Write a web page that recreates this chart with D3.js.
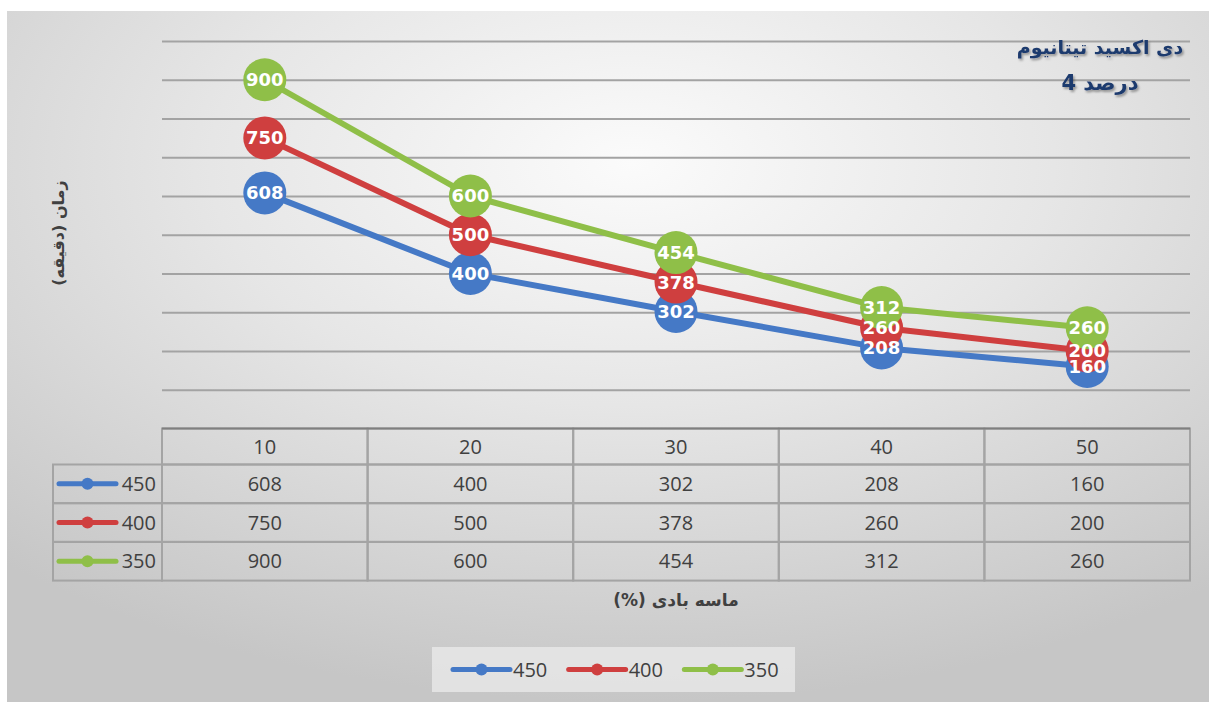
<!DOCTYPE html>
<html><head><meta charset="utf-8">
<script src="https://cdn.jsdelivr.net/npm/d3@7"></script>
<style>html,body{margin:0;padding:0;background:#fff;}svg{display:block;}</style>
</head><body>
<svg id="c" width="1209" height="702"></svg>
<script>
const categories = ["10", "20", "30", "40", "50"];
const seriesNames = ["450", "400", "350"];
const values450 = [608, 400, 302, 208, 160];
const values400 = [750, 500, 378, 260, 200];
const values350 = [900, 600, 454, 312, 260];
const seriesColors = ["#4579c6", "#cf3f3f", "#8fbf48"];
const titleLine1 = "دی اکسید تیتانیوم";
const titleLine2 = ["4", "درصد"];
const xTitle = "ماسه بادی (%)";
const yTitle = "زمان (دقیقه)";

const series = seriesNames.map((n, i) => ({name: n, values: [values450, values400, values350][i], color: seriesColors[i]}));

const W = 1209, H = 702;
const svg = d3.select("#c");
const defs = svg.append("defs");
const rg = defs.append("radialGradient").attr("id", "bg").attr("cx", "52%").attr("cy", "22%").attr("r", "78%");
rg.append("stop").attr("offset", "0%").attr("stop-color", "#fbfbfb");
rg.append("stop").attr("offset", "45%").attr("stop-color", "#e6e6e6");
rg.append("stop").attr("offset", "100%").attr("stop-color", "#c6c6c6");
const sh = defs.append("filter").attr("id", "ts").attr("x", "-10%").attr("y", "-20%").attr("width", "130%").attr("height", "150%");
sh.append("feDropShadow").attr("dx", 1.5).attr("dy", 2).attr("stdDeviation", 1.2).attr("flood-color", "#000").attr("flood-opacity", 0.35);

svg.append("rect").attr("x", 7).attr("y", 11).attr("width", W - 7).attr("height", H - 11).attr("fill", "url(#bg)");

const plotL = 162, plotR = 1190, plotT = 41, plotB = 428.5;
const x = d3.scaleBand().domain(categories).range([plotL, plotR]).padding(0);
const y = d3.scaleLinear().domain([0, 1000]).range([plotB, plotT]);

// gridlines
const grid = svg.append("g").attr("transform", `translate(${plotL},0)`)
  .call(d3.axisLeft(y).tickValues(d3.range(100, 1001, 100)).tickSize(-(plotR - plotL)).tickFormat(""));
grid.select(".domain").remove();
grid.selectAll(".tick line").attr("stroke", "#a3a3a3").attr("stroke-width", 2);

// lines + markers
const line = d3.line().x((d, i) => x(categories[i]) + x.bandwidth() / 2).y(d => y(d));
series.forEach(s => {
  svg.append("path").datum(s.values).attr("d", line).attr("fill", "none")
    .attr("stroke", s.color).attr("stroke-width", 6).attr("stroke-linejoin", "round");
  svg.append("g").selectAll("circle").data(s.values).join("circle")
    .attr("cx", (d, i) => x(categories[i]) + x.bandwidth() / 2).attr("cy", d => y(d))
    .attr("r", 21.5).attr("fill", s.color);
});
series.forEach(s => {
  svg.append("g").selectAll("text").data(s.values).join("text")
    .attr("x", (d, i) => x(categories[i]) + x.bandwidth() / 2).attr("y", d => y(d))
    .attr("dy", "0.36em").attr("text-anchor", "middle")
    .attr("font-family", "DejaVu Sans").attr("font-weight", "bold").attr("font-size", 18)
    .attr("fill", "#fff").text(d => d);
});

// data table
const headerH = 36, rowH = 38.7;
const tTop = plotB;
const tg = svg.append("g");
const cellStroke = "#a4a4a4";
const legL = 53;
categories.forEach(c => {
  tg.append("rect").attr("x", x(c)).attr("y", tTop).attr("width", x.bandwidth()).attr("height", headerH)
    .attr("fill", "none").attr("stroke", cellStroke).attr("stroke-width", 2);
  tg.append("text").attr("x", x(c) + x.bandwidth() / 2).attr("y", tTop + headerH / 2).attr("dy", "0.36em")
    .attr("text-anchor", "middle").attr("font-family", "Open Sans").attr("font-size", 20).attr("fill", "#404040").text(c);
});
series.forEach((s, r) => {
  const ry = tTop + headerH + r * rowH;
  tg.append("rect").attr("x", legL).attr("y", ry).attr("width", plotL - legL).attr("height", rowH)
    .attr("fill", "none").attr("stroke", cellStroke).attr("stroke-width", 2);
  tg.append("line").attr("x1", 59).attr("x2", 116).attr("y1", ry + rowH / 2).attr("y2", ry + rowH / 2)
    .attr("stroke", s.color).attr("stroke-width", 5).attr("stroke-linecap", "round");
  tg.append("circle").attr("cx", 87.5).attr("cy", ry + rowH / 2).attr("r", 6).attr("fill", s.color);
  tg.append("text").attr("x", 156).attr("y", ry + rowH / 2).attr("dy", "0.36em").attr("text-anchor", "end")
    .attr("font-family", "Open Sans").attr("font-size", 20).attr("fill", "#404040").text(s.name);
  s.values.forEach((v, i) => {
    const c = categories[i];
    tg.append("rect").attr("x", x(c)).attr("y", ry).attr("width", x.bandwidth()).attr("height", rowH)
      .attr("fill", "none").attr("stroke", cellStroke).attr("stroke-width", 2);
    tg.append("text").attr("x", x(c) + x.bandwidth() / 2).attr("y", ry + rowH / 2).attr("dy", "0.36em")
      .attr("text-anchor", "middle").attr("font-family", "Open Sans").attr("font-size", 20).attr("fill", "#404040").text(v);
  });
});
tg.append("line").attr("x1", plotL).attr("x2", plotR).attr("y1", tTop).attr("y2", tTop).attr("stroke", "#7f7f7f").attr("stroke-width", 2);

// axis titles
svg.append("text").attr("x", (plotL + plotR) / 2).attr("y", 600).attr("dy", "0.36em").attr("text-anchor", "middle")
  .attr("direction", "rtl").attr("font-family", "DejaVu Sans").attr("font-weight", "bold").attr("font-size", 17)
  .attr("fill", "#404040").text(xTitle);
svg.append("text").attr("transform", "translate(58,233) rotate(-90)").attr("dy", "0.36em").attr("text-anchor", "middle")
  .attr("direction", "rtl").attr("font-family", "DejaVu Sans").attr("font-weight", "bold").attr("font-size", 16)
  .attr("fill", "#404040").text(yTitle);

// chart title
const titleStyle = sel => sel.attr("dy", "0.36em").attr("font-family", "DejaVu Sans").attr("font-weight", "bold")
  .attr("fill", "#1f3a6e").attr("filter", "url(#ts)");
svg.append("text").attr("x", 1100).attr("y", 47).attr("text-anchor", "middle").attr("font-size", 19)
  .call(titleStyle).text(titleLine1);
const tA = svg.append("text").attr("y", 82).attr("font-size", 21).call(titleStyle).text(titleLine2[0]);
const tB = svg.append("text").attr("y", 82).attr("font-size", 21).call(titleStyle).text(titleLine2[1]);
const gap = 7;
const wA = tA.node().getComputedTextLength(), wB = tB.node().getComputedTextLength();
const startX = 1100 - (wA + gap + wB) / 2;
tA.attr("x", startX);
tB.attr("x", startX + wA + gap);

// legend
const lg = svg.append("g");
lg.append("rect").attr("x", 432).attr("y", 647).attr("width", 363).attr("height", 45).attr("fill", "#ebebeb").attr("opacity", 0.75);
const legX = d3.scaleBand().domain(seriesNames).range([453, 800]);
series.forEach(s => {
  const lx = legX(s.name), ly = 669.5;
  lg.append("line").attr("x1", lx).attr("x2", lx + 57).attr("y1", ly).attr("y2", ly)
    .attr("stroke", s.color).attr("stroke-width", 5).attr("stroke-linecap", "round");
  lg.append("circle").attr("cx", lx + 28.5).attr("cy", ly).attr("r", 6).attr("fill", s.color);
  lg.append("text").attr("x", lx + 60).attr("y", ly).attr("dy", "0.36em").attr("font-family", "Open Sans")
    .attr("font-size", 20).attr("fill", "#404040").text(s.name);
});
</script>
</body></html>
